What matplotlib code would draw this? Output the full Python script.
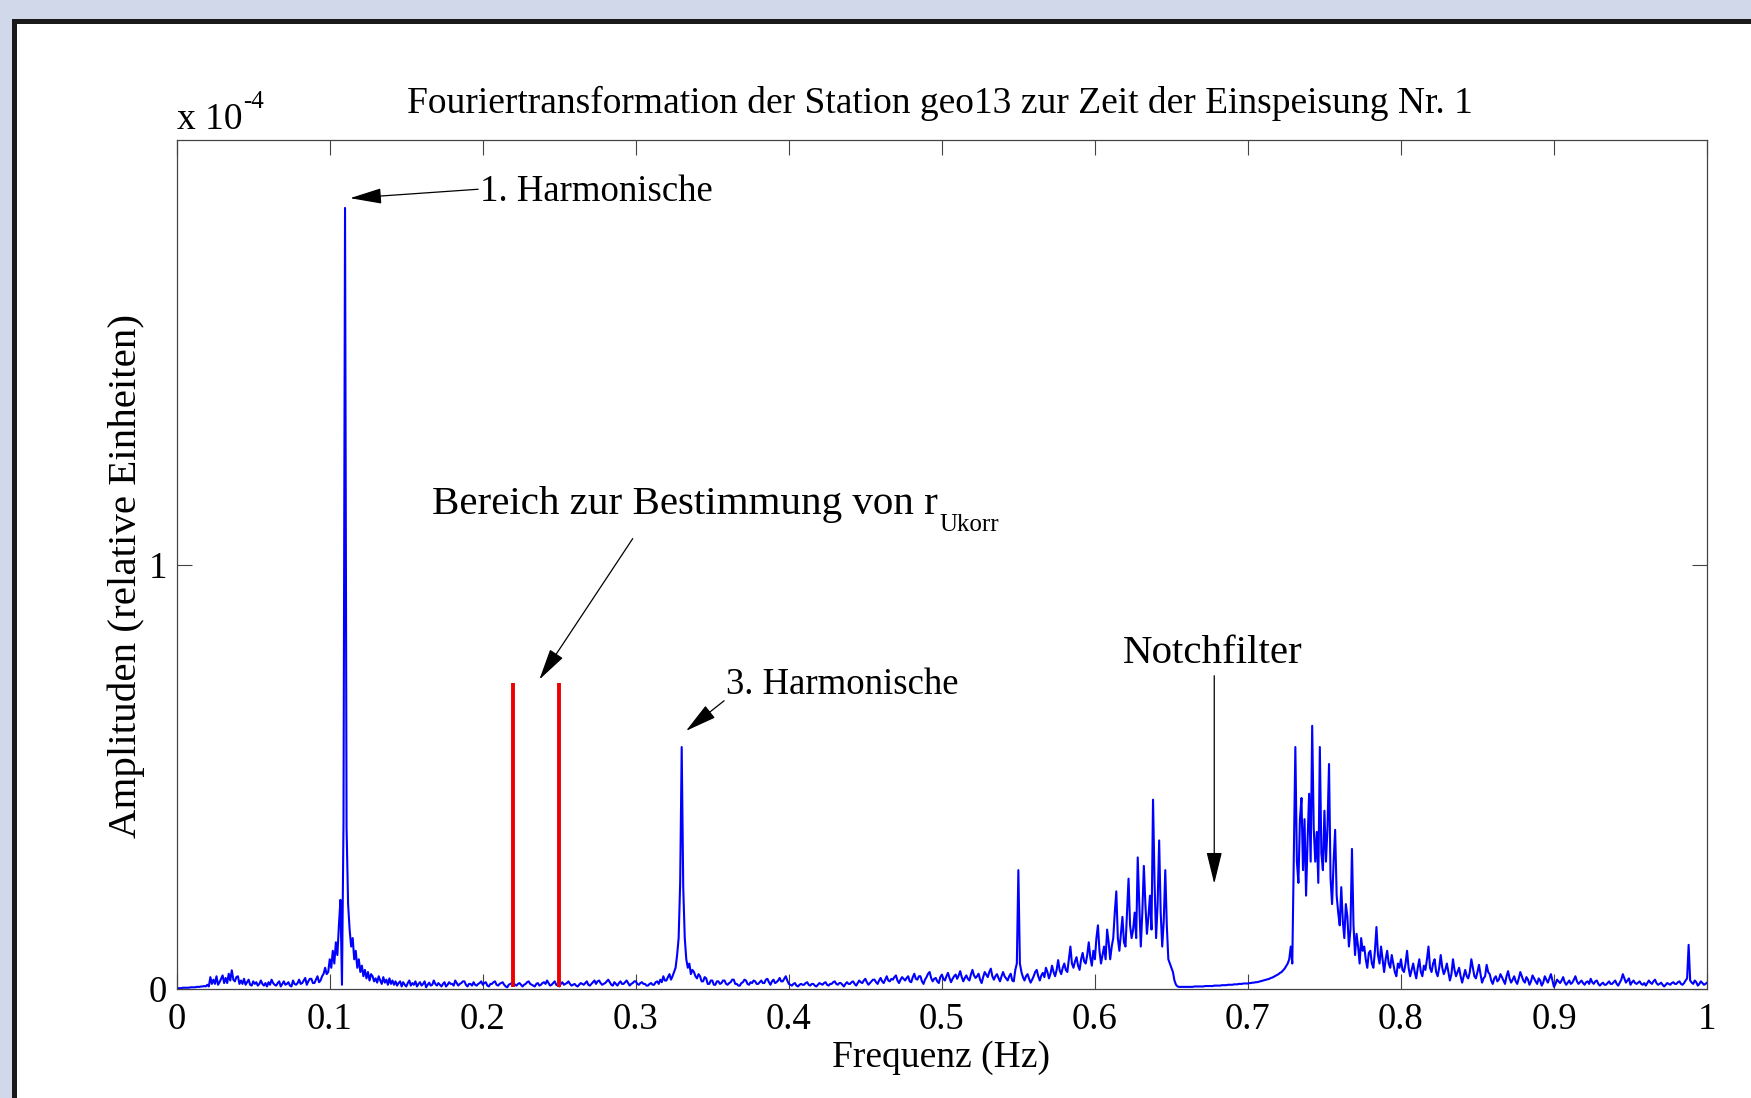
import numpy as np
import matplotlib.pyplot as plt
from matplotlib.patches import Rectangle

plt.rcParams['font.family'] = ['Liberation Serif', 'DejaVu Serif']

# FFT bin spacing (Hz) and amplitudes in units of 1e-4, two lines = 0.02 Hz
df = 0.001
amp = [
    0.002, 0.002, 0.002, 0.002, 0.003, 0.003, 0.003, 0.003, 0.003, 0.004,   # 0.000
    0.004, 0.004, 0.004, 0.005, 0.005, 0.005, 0.006, 0.006, 0.007, 0.006,
    0.010, 0.006, 0.028, 0.012, 0.022, 0.012, 0.030, 0.010, 0.016, 0.024,   # 0.020
    0.032, 0.014, 0.026, 0.014, 0.036, 0.020, 0.044, 0.022, 0.018, 0.028,
    0.030, 0.012, 0.020, 0.012, 0.024, 0.010, 0.016, 0.022, 0.010, 0.008,   # 0.040
    0.018, 0.012, 0.016, 0.008, 0.012, 0.020, 0.012, 0.008, 0.014, 0.006,
    0.016, 0.010, 0.022, 0.014, 0.010, 0.008, 0.014, 0.018, 0.006, 0.012,   # 0.060
    0.018, 0.010, 0.012, 0.016, 0.008, 0.006, 0.020, 0.012, 0.010, 0.014,
    0.022, 0.012, 0.014, 0.020, 0.026, 0.010, 0.018, 0.024, 0.024, 0.014,   # 0.080
    0.014, 0.022, 0.030, 0.016, 0.020, 0.030, 0.036, 0.050, 0.035, 0.040,
    0.070, 0.050, 0.090, 0.060, 0.110, 0.080, 0.150, 0.210, 0.010, 0.390,   # 0.100
    1.840, 0.380, 0.200, 0.140, 0.100, 0.120, 0.070, 0.090, 0.050, 0.070,
    0.040, 0.055, 0.030, 0.045, 0.025, 0.040, 0.020, 0.035, 0.030, 0.018,   # 0.120
    0.025, 0.015, 0.030, 0.020, 0.012, 0.028, 0.015, 0.022, 0.010, 0.025,
    0.012, 0.020, 0.010, 0.018, 0.008, 0.014, 0.018, 0.006, 0.016, 0.010,   # 0.140
    0.006, 0.014, 0.020, 0.008, 0.014, 0.010, 0.018, 0.006, 0.012, 0.016,
    0.008, 0.012, 0.018, 0.004, 0.010, 0.015, 0.008, 0.010, 0.020, 0.012,   # 0.160
    0.008, 0.014, 0.010, 0.006, 0.012, 0.016, 0.006, 0.010, 0.016, 0.012,
    0.012, 0.008, 0.020, 0.014, 0.008, 0.012, 0.014, 0.018, 0.018, 0.010,   # 0.180
    0.006, 0.012, 0.012, 0.008, 0.016, 0.010, 0.008, 0.012, 0.014, 0.018,
    0.010, 0.014, 0.016, 0.008, 0.006, 0.012, 0.012, 0.016, 0.018, 0.010,   # 0.200
    0.008, 0.012, 0.014, 0.016, 0.010, 0.006, 0.004, 0.010, 0.012, 0.014,
    0.016, 0.010, 0.008, 0.012, 0.014, 0.010, 0.006, 0.010, 0.012, 0.016,   # 0.220
    0.018, 0.012, 0.010, 0.008, 0.006, 0.012, 0.014, 0.008, 0.010, 0.014,
    0.016, 0.012, 0.020, 0.014, 0.008, 0.010, 0.014, 0.018, 0.010, 0.008,   # 0.240
    0.006, 0.012, 0.016, 0.010, 0.012, 0.014, 0.018, 0.012, 0.008, 0.010,
    0.012, 0.008, 0.006, 0.010, 0.014, 0.012, 0.010, 0.014, 0.018, 0.010,   # 0.260
    0.008, 0.012, 0.016, 0.020, 0.012, 0.018, 0.020, 0.014, 0.010, 0.012,
    0.014, 0.018, 0.022, 0.016, 0.010, 0.008, 0.016, 0.012, 0.008, 0.014,   # 0.280
    0.018, 0.012, 0.012, 0.016, 0.020, 0.014, 0.008, 0.012, 0.014, 0.018,
    0.018, 0.012, 0.010, 0.014, 0.016, 0.012, 0.012, 0.008, 0.008, 0.012,   # 0.300
    0.014, 0.010, 0.010, 0.016, 0.018, 0.012, 0.022, 0.016, 0.030, 0.020,
    0.020, 0.028, 0.035, 0.022, 0.030, 0.040, 0.050, 0.080, 0.120, 0.250,   # 0.320
    0.570, 0.240, 0.120, 0.070, 0.050, 0.060, 0.035, 0.045, 0.040, 0.030,
    0.025, 0.035, 0.030, 0.018, 0.018, 0.028, 0.025, 0.012, 0.012, 0.020,   # 0.340
    0.020, 0.010, 0.010, 0.018, 0.018, 0.012, 0.014, 0.020, 0.020, 0.012,
    0.010, 0.014, 0.016, 0.022, 0.022, 0.012, 0.012, 0.008, 0.008, 0.014,   # 0.360
    0.016, 0.022, 0.020, 0.012, 0.010, 0.016, 0.014, 0.020, 0.018, 0.012,
    0.012, 0.016, 0.020, 0.014, 0.014, 0.022, 0.024, 0.016, 0.010, 0.018,   # 0.380
    0.022, 0.014, 0.016, 0.020, 0.026, 0.018, 0.018, 0.024, 0.030, 0.020,
    0.012, 0.010, 0.008, 0.012, 0.014, 0.008, 0.006, 0.010, 0.012, 0.010,   # 0.400
    0.010, 0.014, 0.016, 0.010, 0.008, 0.012, 0.012, 0.008, 0.006, 0.010,
    0.014, 0.012, 0.010, 0.014, 0.016, 0.010, 0.008, 0.012, 0.012, 0.016,   # 0.420
    0.018, 0.012, 0.010, 0.014, 0.014, 0.010, 0.006, 0.012, 0.016, 0.012,
    0.012, 0.016, 0.018, 0.012, 0.008, 0.014, 0.020, 0.016, 0.014, 0.020,   # 0.440
    0.024, 0.016, 0.010, 0.014, 0.018, 0.022, 0.022, 0.016, 0.012, 0.020,
    0.026, 0.018, 0.014, 0.022, 0.030, 0.020, 0.018, 0.024, 0.022, 0.028,   # 0.460
    0.032, 0.020, 0.014, 0.022, 0.028, 0.024, 0.020, 0.026, 0.030, 0.018,
    0.016, 0.028, 0.036, 0.024, 0.022, 0.030, 0.030, 0.018, 0.012, 0.022,   # 0.480
    0.028, 0.036, 0.040, 0.026, 0.018, 0.024, 0.026, 0.018, 0.014, 0.028,
    0.034, 0.024, 0.020, 0.030, 0.038, 0.026, 0.016, 0.024, 0.030, 0.034,   # 0.500
    0.024, 0.032, 0.042, 0.028, 0.018, 0.026, 0.032, 0.024, 0.020, 0.034,
    0.045, 0.032, 0.026, 0.030, 0.036, 0.022, 0.014, 0.028, 0.040, 0.034,   # 0.520
    0.028, 0.040, 0.048, 0.030, 0.022, 0.030, 0.035, 0.026, 0.018, 0.030,
    0.040, 0.030, 0.025, 0.020, 0.030, 0.036, 0.020, 0.018, 0.045, 0.060,   # 0.540
    0.280, 0.060, 0.040, 0.028, 0.020, 0.030, 0.035, 0.024, 0.015, 0.022,
    0.030, 0.040, 0.045, 0.030, 0.020, 0.032, 0.038, 0.028, 0.050, 0.040,   # 0.560
    0.025, 0.036, 0.055, 0.040, 0.030, 0.045, 0.068, 0.044, 0.035, 0.050,
    0.060, 0.045, 0.040, 0.070, 0.100, 0.060, 0.050, 0.065, 0.075, 0.055,   # 0.580
    0.045, 0.070, 0.085, 0.065, 0.060, 0.080, 0.110, 0.075, 0.055, 0.090,
    0.070, 0.120, 0.150, 0.090, 0.060, 0.080, 0.100, 0.070, 0.140, 0.110,   # 0.600
    0.070, 0.100, 0.120, 0.180, 0.230, 0.120, 0.090, 0.130, 0.170, 0.110,
    0.100, 0.180, 0.260, 0.150, 0.120, 0.140, 0.180, 0.120, 0.310, 0.200,   # 0.620
    0.100, 0.180, 0.290, 0.200, 0.130, 0.170, 0.220, 0.140, 0.446, 0.250,
    0.120, 0.200, 0.350, 0.180, 0.100, 0.160, 0.280, 0.150, 0.070, 0.060,   # 0.640
    0.050, 0.040, 0.020, 0.010, 0.006, 0.005, 0.005, 0.005, 0.005, 0.005,
    0.005, 0.005, 0.005, 0.005, 0.005, 0.006, 0.006, 0.006, 0.006, 0.006,   # 0.660
    0.006, 0.006, 0.007, 0.007, 0.007, 0.007, 0.007, 0.007, 0.008, 0.008,
    0.008, 0.008, 0.008, 0.009, 0.009, 0.009, 0.009, 0.010, 0.010, 0.010,   # 0.680
    0.010, 0.011, 0.011, 0.011, 0.012, 0.012, 0.012, 0.013, 0.013, 0.013,
    0.013, 0.014, 0.014, 0.015, 0.015, 0.016, 0.016, 0.017, 0.018, 0.019,   # 0.700
    0.020, 0.021, 0.022, 0.023, 0.024, 0.026, 0.027, 0.029, 0.031, 0.033,
    0.035, 0.038, 0.040, 0.044, 0.048, 0.054, 0.060, 0.070, 0.100, 0.060,   # 0.720
    0.320, 0.570, 0.300, 0.250, 0.400, 0.450, 0.280, 0.400, 0.220, 0.350,
    0.460, 0.300, 0.620, 0.380, 0.300, 0.370, 0.250, 0.570, 0.320, 0.280,   # 0.740
    0.420, 0.300, 0.380, 0.530, 0.260, 0.200, 0.300, 0.375, 0.220, 0.180,
    0.150, 0.240, 0.160, 0.120, 0.200, 0.170, 0.100, 0.140, 0.330, 0.150,   # 0.760
    0.080, 0.130, 0.100, 0.060, 0.120, 0.090, 0.100, 0.070, 0.050, 0.085,
    0.090, 0.060, 0.050, 0.090, 0.146, 0.080, 0.060, 0.100, 0.070, 0.040,   # 0.780
    0.070, 0.090, 0.060, 0.050, 0.080, 0.060, 0.040, 0.030, 0.060, 0.050,
    0.070, 0.045, 0.040, 0.060, 0.090, 0.050, 0.030, 0.045, 0.060, 0.040,   # 0.800
    0.025, 0.050, 0.070, 0.040, 0.030, 0.055, 0.045, 0.070, 0.100, 0.050,
    0.040, 0.060, 0.070, 0.040, 0.030, 0.050, 0.080, 0.050, 0.035, 0.045,   # 0.820
    0.060, 0.040, 0.020, 0.035, 0.070, 0.045, 0.030, 0.040, 0.050, 0.030,
    0.015, 0.030, 0.045, 0.030, 0.025, 0.040, 0.070, 0.050, 0.030, 0.025,   # 0.840
    0.040, 0.057, 0.035, 0.015, 0.025, 0.030, 0.057, 0.040, 0.035, 0.020,
    0.012, 0.025, 0.030, 0.018, 0.022, 0.035, 0.028, 0.020, 0.012, 0.030,   # 0.860
    0.042, 0.025, 0.015, 0.022, 0.030, 0.018, 0.012, 0.025, 0.040, 0.030,
    0.020, 0.015, 0.028, 0.022, 0.010, 0.018, 0.032, 0.025, 0.018, 0.012,   # 0.880
    0.025, 0.020, 0.008, 0.015, 0.030, 0.022, 0.015, 0.025, 0.035, 0.020,
    0.005, 0.012, 0.022, 0.018, 0.014, 0.020, 0.028, 0.016, 0.010, 0.015,   # 0.900
    0.020, 0.012, 0.015, 0.022, 0.030, 0.018, 0.012, 0.016, 0.020, 0.014,
    0.010, 0.016, 0.018, 0.012, 0.024, 0.016, 0.012, 0.018, 0.020, 0.012,   # 0.920
    0.008, 0.012, 0.015, 0.010, 0.010, 0.014, 0.018, 0.012, 0.012, 0.016,
    0.020, 0.012, 0.008, 0.015, 0.022, 0.035, 0.025, 0.015, 0.020, 0.025,   # 0.940
    0.010, 0.016, 0.020, 0.014, 0.012, 0.015, 0.018, 0.012, 0.010, 0.014,
    0.008, 0.014, 0.020, 0.015, 0.012, 0.018, 0.022, 0.014, 0.010, 0.012,   # 0.960
    0.015, 0.010, 0.006, 0.010, 0.014, 0.012, 0.010, 0.014, 0.016, 0.012,
    0.012, 0.016, 0.018, 0.012, 0.010, 0.014, 0.020, 0.025, 0.104, 0.020,   # 0.980
    0.015, 0.012, 0.020, 0.016, 0.008, 0.012, 0.018, 0.014, 0.010, 0.012,
    0.015,                                                                  # 1.000
]
freq = np.arange(len(amp)) * df

# band used for r_Ukorr (red markers)
band_edges = [0.22, 0.25]
band_height = 0.72

x_ticks = [0, 0.1, 0.2, 0.3, 0.4, 0.5, 0.6, 0.7, 0.8, 0.9, 1]
x_ticklabels = ['0', '0.1', '0.2', '0.3', '0.4', '0.5', '0.6', '0.7', '0.8', '0.9', '1']

W, H = 1751, 1098
fig = plt.figure(figsize=(W / 100, H / 100), dpi=100, facecolor='#D0D8E9')

# white page with black frame
frame = Rectangle((13.5 / W, -0.1), 1.2, (H - 21.5) / H + 0.1, transform=fig.transFigure,
                  facecolor='white', edgecolor='#1a1a1a', linewidth=3.6, zorder=0)
fig.add_artist(frame)

ax = fig.add_axes([176.7 / W, (H - 989) / H, 1530.3 / W, 849 / H])
ax.set_facecolor('white')

ax.plot(freq, amp, color='#0000ff', lw=1.5)
ax.vlines(band_edges, 0.005, band_height, color='#ee0000', lw=2.8)

ax.set_xlim(0, 1)
ax.set_ylim(0, 2)
ax.set_xticks(x_ticks)
ax.set_xticklabels(x_ticklabels)
ax.set_yticks([0, 1])
ax.set_yticklabels(['0', '1'])
ax.tick_params(direction='in', top=True, right=True, length=11, width=0.8,
               color='#444444', labelsize=26.5)
ax.tick_params(axis='x', pad=10)
ax.tick_params(axis='y', pad=7)
for s in ax.spines.values():
    s.set_color('#444444')
    s.set_linewidth(0.9)

ax.set_xlabel('Frequenz (Hz)', fontsize=27)
ax.xaxis.set_label_coords(0.4995, -0.06)
ax.set_ylabel('Amplituden (relative Einheiten)', fontsize=29.5)
ax.yaxis.set_label_coords(-0.021, 0.486)

ax.text(0.499, 1.0318, 'Fouriertransformation der Station geo13 zur Zeit der Einspeisung Nr. 1',
        transform=ax.transAxes, ha='center', va='baseline', fontsize=27)
ax.text(0.0, 1.0124, 'x 10', transform=ax.transAxes, ha='left', va='baseline', fontsize=27)
ax.text(0.0433, 1.0377, '-4', transform=ax.transAxes, ha='left', va='baseline', fontsize=18)

arrow = dict(arrowstyle='-|>,head_length=0.9,head_width=0.22', color='black', lw=0.9,
             shrinkA=0, shrinkB=0, mutation_scale=22)

ax.text(0.198, 1.856, '1. Harmonische', ha='left', va='baseline', fontsize=26.5)
ax.annotate('', xy=(0.1133, 1.863), xytext=(0.197, 1.884), arrowprops=arrow)

bereich = ax.text(0.167, 1.12, 'Bereich zur Bestimmung von r', ha='left', va='baseline',
                  fontsize=29.5)
ax.annotate('Ukorr', xy=(1, 0), xycoords=bereich, xytext=(1, -6), textcoords='offset points',
            ha='left', va='baseline', fontsize=18)
ax.annotate('', xy=(0.237, 0.729), xytext=(0.298, 1.061), arrowprops=arrow)

ax.text(0.359, 0.694, '3. Harmonische', ha='left', va='baseline', fontsize=26.5)
ax.annotate('', xy=(0.3328, 0.608), xytext=(0.3577, 0.679), arrowprops=arrow)

ax.text(0.677, 0.768, 'Notchfilter', ha='center', va='baseline', fontsize=29.5)
ax.annotate('', xy=(0.678, 0.248), xytext=(0.678, 0.738), arrowprops=arrow)

fig.savefig('out.png', dpi=100, facecolor=fig.get_facecolor())
